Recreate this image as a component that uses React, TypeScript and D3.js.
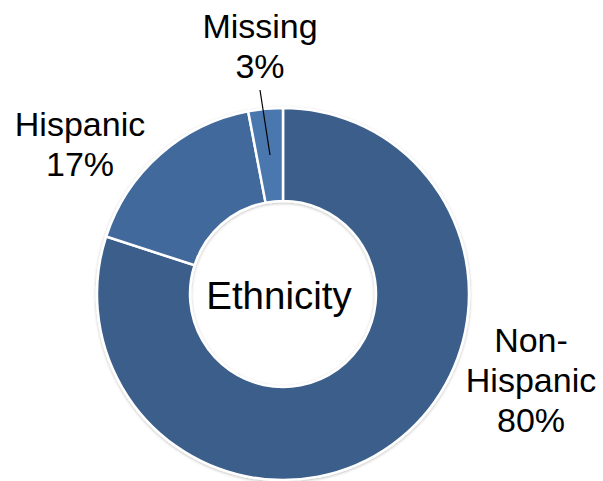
import React from "react";
import * as d3 from "d3";

const categories = ["Non-Hispanic", "Hispanic", "Missing"];
const values = [80, 17, 3];
const labelLines = [["Non-", "Hispanic", "80%"], ["Hispanic", "17%"], ["Missing", "3%"]];
const colors = ["#3A5F8A", "#43699C", "#4A77AE"];
const centerTitle = "Ethnicity";

export default function App() {
  const W = 603, H = 481;
  const cx = 283, cy = 294, outerR = 186, innerR = 93;
  const pie = d3.pie<number>().sort(null).value((d) => d);
  const arcs = pie(values);
  const arcGen = d3.arc<d3.PieArcDatum<number>>().innerRadius(innerR).outerRadius(outerR);
  const labelPos = [
    { x: 531, y: 352 },
    { x: 80, y: 136 },
    { x: 260, y: 38 },
  ];
  const fs = 34;
  const lh = 40;
  return (
    <svg width={W} height={H} style={{ position: "absolute", left: 0, top: 0 }} fontFamily="'Liberation Sans', Arial, sans-serif">
      <defs>
        <filter id="sh" x="-20%" y="-20%" width="140%" height="140%">
          <feDropShadow dx="0" dy="1" stdDeviation="1.5" floodColor="#000" floodOpacity="0.25" />
        </filter>
      </defs>
      <rect width={W} height={H} fill="#fff" />
      <g transform={`translate(${cx},${cy})`} filter="url(#sh)">
        {arcs.map((a, i) => (
          <path key={categories[i]} d={arcGen(a) || ""} fill={colors[i]} stroke="#fff" strokeWidth={2.5} />
        ))}
      </g>
      <text x={279} y={309} textAnchor="middle" fontSize={38.5} fill="#000">{centerTitle}</text>
      <line x1={260} y1={90} x2={270} y2={155} stroke="#000" strokeWidth={1.2} />
      {labelLines.map((lines, i) => (
        <text key={categories[i]} textAnchor="middle" fontSize={fs} fill="#000">
          {lines.map((l, j) => (
            <tspan key={j} x={labelPos[i].x} y={labelPos[i].y + j * lh}>{l}</tspan>
          ))}
        </text>
      ))}
    </svg>
  );
}
